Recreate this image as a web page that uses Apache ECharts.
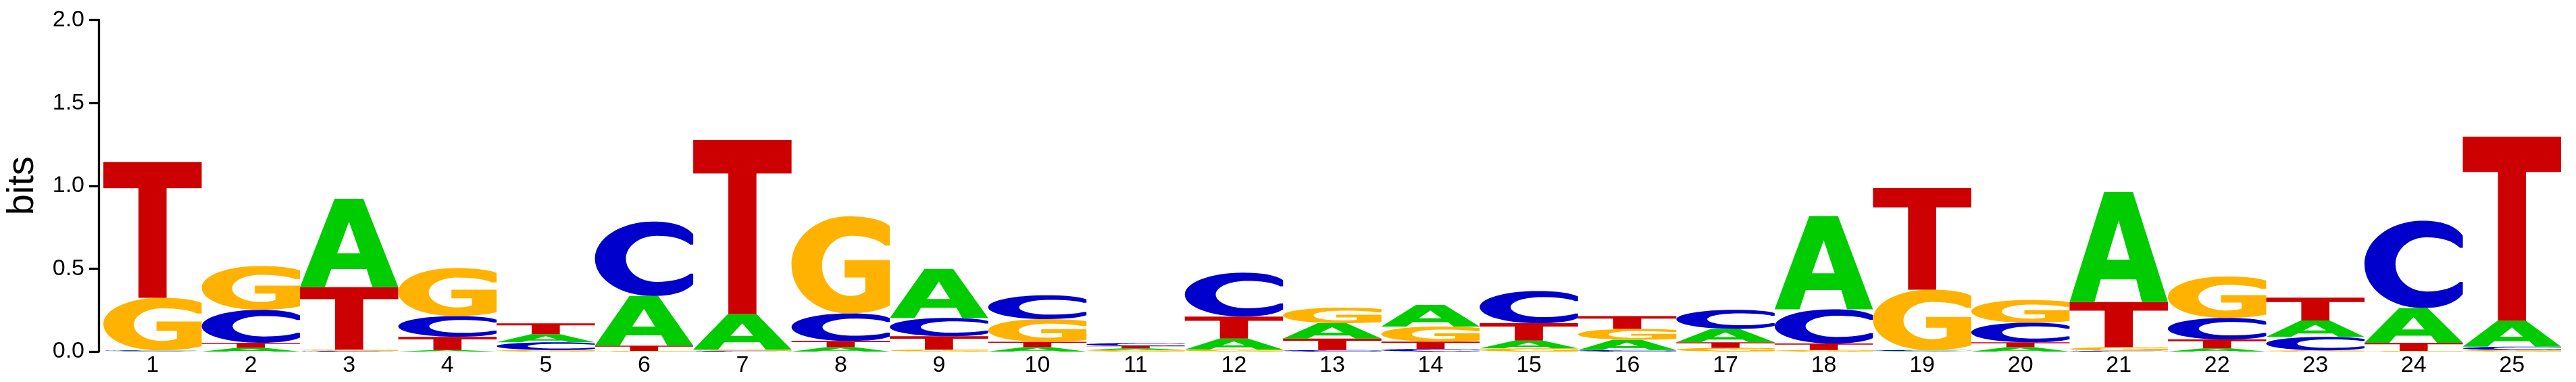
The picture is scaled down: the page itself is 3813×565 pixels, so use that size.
<!DOCTYPE html>
<html><head><meta charset="utf-8">
<script src="https://cdn.jsdelivr.net/npm/echarts@6/dist/echarts.min.js"></script>
<style>html,body{margin:0;padding:0;background:#fff}#c{width:3813px;height:565px}</style>
</head><body><div id="c"></div>
<script>
// Positions (x categories)
const positions = ['1','2','3','4','5','6','7','8','9','10','11','12','13','14','15','16','17','18','19','20','21','22','23','24','25'];
// Information content (bits) per base at each position
const bitsA = [0.003,0.022,0.533,0.009,0.049,0.299,0.214,0.027,0.295,0.027,0.010,0.066,0.093,0.130,0.047,0.062,0.081,0.563,0.004,0.027,0.663,0.019,0.099,0.209,0.156];
const bitsC = [0.004,0.199,0.004,0.125,0.047,0.449,0.005,0.166,0.110,0.143,0.018,0.265,0.009,0.016,0.194,0.009,0.115,0.206,0.005,0.118,0.005,0.130,0.082,0.527,0.021];
const bitsG = [0.317,0.264,0.008,0.290,0.009,0.004,0.007,0.585,0.012,0.137,0.009,0.012,0.094,0.091,0.019,0.066,0.022,0.009,0.364,0.137,0.022,0.250,0.007,0.004,0.009];
const bitsT = [0.819,0.031,0.376,0.080,0.065,0.032,1.050,0.037,0.081,0.032,0.015,0.133,0.069,0.044,0.105,0.077,0.034,0.040,0.614,0.029,0.272,0.054,0.137,0.049,1.110];
const yTickLabels = ['0.0','0.5','1.0','1.5','2.0'];
const bases = ['A','C','G','T'];

const baseColors = {A:'#00CC00', C:'#0000CC', G:'#FFB300', T:'#CC0000'};
// glyph outlines in a 100x100 box
const glyphs = {
  A: 'M0,100 L35.2,0 L64.4,0 L100,100 L73.6,100 L67.8,79.4 L31.7,79.4 L25.3,100 Z M37.9,61.5 L61.1,61.5 L49.9,25.9 Z',
  C: 'M100,17 C92,5 78,0 59,0 C26.4,0 0,22.4 0,50 C0,77.6 26.4,100 59,100 C78,100 92,95 100,84 L100,70 L97,70 C90,77 78,81 63,81 C45.6,81 31.5,67.1 31.5,50 C31.5,32.9 45.6,19 63,19 C78,19 90,23 97,31 L100,31 Z',
  G: 'M100,10 C92,3 76,0 58,0 C25,0 0,22.4 0,50 C0,77.6 25,100 58,100 C76,100 90,97 100,92 L100,45 L54,45 L54,63 L75,63 L75,77.5 C71,80.5 66,82 60,82 C44,82 31,68.1 31,51 C31,33.9 44,20 60,20 C76,20 89,24 95,30 L100,30 Z',
  T: 'M0,0 L100,0 L100,19.2 L64.3,19.2 L64.3,100 L35.7,100 L35.7,19.2 L0,19.2 Z'
};

const seriesData = positions.map((p, i) => [i, bitsA[i], bitsC[i], bitsG[i], bitsT[i]]);

function renderItem(params, api) {
  const idx = api.value(0);
  const vals = bases.map((b, k) => ({b: b, v: api.value(k + 1)}));
  vals.sort((a, b) => a.v - b.v);
  const bandW = api.size([1, 0])[0];
  const children = [];
  let cum = 0;
  vals.forEach(item => {
    if (item.v <= 0) return;
    const p0 = api.coord([idx, cum]);
    const p1 = api.coord([idx, cum + item.v]);
    const h = p0[1] - p1[1];
    children.push({
      type: 'path',
      x: p0[0] - bandW / 2,
      y: p1[1],
      scaleX: bandW / 100,
      scaleY: h / 100,
      shape: {pathData: glyphs[item.b]},
      style: {fill: baseColors[item.b], stroke: null},
      silent: true
    });
    cum += item.v;
  });
  return {type: 'group', children: children};
}

const chart = echarts.init(document.getElementById('c'), null, {renderer: 'canvas'});
chart.setOption({
  animation: false,
  backgroundColor: '#ffffff',
  grid: {left: 153, right: 22, top: 29.5, bottom: 45, containLabel: false, outerBoundsMode: 'none'},
  xAxis: {
    type: 'category', data: positions, boundaryGap: true,
    axisLine: {show: false}, axisTick: {show: false}, splitLine: {show: false},
    axisLabel: {fontSize: 34, color: '#000', fontFamily: 'Liberation Sans', margin: 4, interval: 0}
  },
  yAxis: {
    type: 'value', min: 0, max: 2, interval: 0.5, offset: 7,
    name: 'bits', nameLocation: 'middle', nameGap: 84, nameRotate: 90,
    nameTextStyle: {fontSize: 56, color: '#000', fontFamily: 'Liberation Sans'},
    axisLine: {show: true, lineStyle: {color: '#000', width: 3.3}},
    axisTick: {show: true, length: 14, lineStyle: {color: '#000', width: 3.3}},
    axisLabel: {fontSize: 34, color: '#000', fontFamily: 'Liberation Sans', margin: 21,
      formatter: v => yTickLabels[Math.round(v / 0.5)]},
    splitLine: {show: false}
  },
  series: [{
    type: 'custom',
    renderItem: renderItem,
    data: seriesData,
    encode: {x: 0, y: [1, 2, 3, 4]},
    clip: false
  }]
});
</script></body></html>
